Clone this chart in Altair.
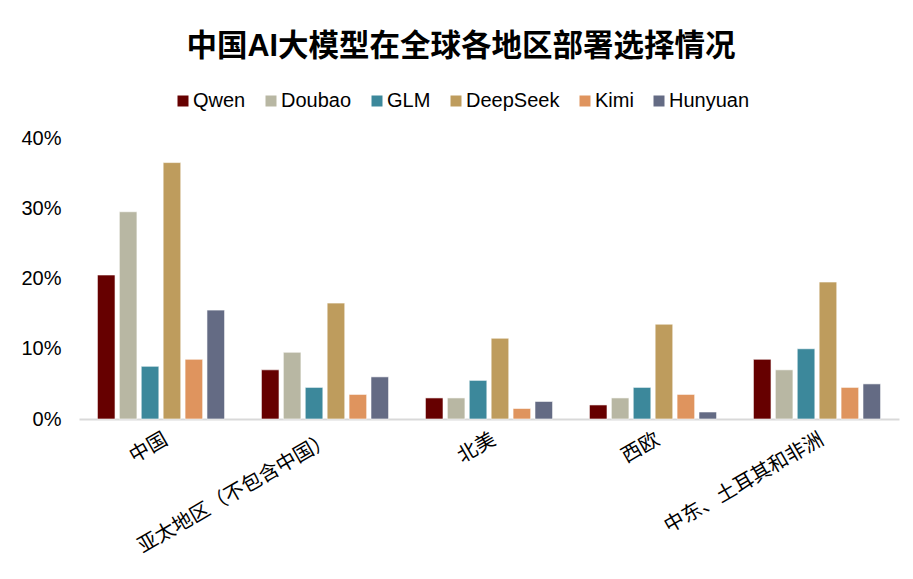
import altair as alt
import pandas as pd

regions = ["中国", "亚太地区（不包含中国）", "北美", "西欧", "中东、土耳其和非洲"]
models = ["Qwen", "Doubao", "GLM", "DeepSeek", "Kimi", "Hunyuan"]
colors = ["#660000", "#B8B7A3", "#3C889B", "#BE9C5D", "#DF945E", "#646B84"]

qwen = [20.5, 7.0, 3.0, 2.0, 8.5]
doubao = [29.5, 9.5, 3.0, 3.0, 7.0]
glm = [7.5, 4.5, 5.5, 4.5, 10.0]
deepseek = [36.5, 16.5, 11.5, 13.5, 19.5]
kimi = [8.5, 3.5, 1.5, 3.5, 4.5]
hunyuan = [15.5, 6.0, 2.5, 1.0, 5.0]

series = [qwen, doubao, glm, deepseek, kimi, hunyuan]
rows = []
for m, vals in zip(models, series):
    for r, v in zip(regions, vals):
        rows.append({"region": r, "model": m, "value": v / 100})
df = pd.DataFrame(rows)

FONT = "Liberation Sans, Arial, Noto Sans CJK SC"

chart = alt.Chart(df).mark_bar(stroke="white", strokeWidth=1, strokeOpacity=0.6).encode(
    x=alt.X("region:N", sort=regions, title=None,
            scale=alt.Scale(paddingInner=0, paddingOuter=0),
            axis=alt.Axis(labelAngle=330, labelAlign="right", labelBaseline="top",
                          labelFontSize=20, labelColor="#000000",
                          ticks=False, domainColor="#D9D9D9", domainWidth=2,
                          labelPadding=10, labelFont=FONT, labelLimit=400)),
    xOffset=alt.XOffset("model:N", sort=models,
                        scale=alt.Scale(paddingInner=0.196, paddingOuter=0.84)),
    y=alt.Y("value:Q", title=None,
            scale=alt.Scale(domain=[0, 0.4]),
            axis=alt.Axis(format=".0%", values=[0, 0.1, 0.2, 0.3, 0.4], grid=False,
                          domain=False, ticks=False, labelFontSize=20,
                          labelColor="#000000", labelPadding=18, labelFont=FONT)),
    color=alt.Color("model:N", sort=models,
                    scale=alt.Scale(domain=models, range=colors),
                    legend=alt.Legend(title=None, orient="none", direction="horizontal",
                                      legendX=94, legendY=-47, symbolType="square",
                                      symbolSize=121, symbolStrokeWidth=0,
                                      labelFontSize=20, labelFont=FONT, labelColor="#000000",
                                      labelOffset=0, columnPadding=15)),
).properties(
    width=820,
    height=281,
    autosize=alt.AutoSizeParams(type="none"),
    padding={"left": 71, "top": 130, "right": 6, "bottom": 152},
    title=alt.Title("中国AI大模型在全球各地区部署选择情况", fontSize=30.5, fontWeight="bold",
                    font=FONT, color="#000000", anchor="middle", dx=-28, offset=29),
).configure_view(stroke=None)

chart.save("out.html", embed_options={"renderer": "svg", "actions": False})
